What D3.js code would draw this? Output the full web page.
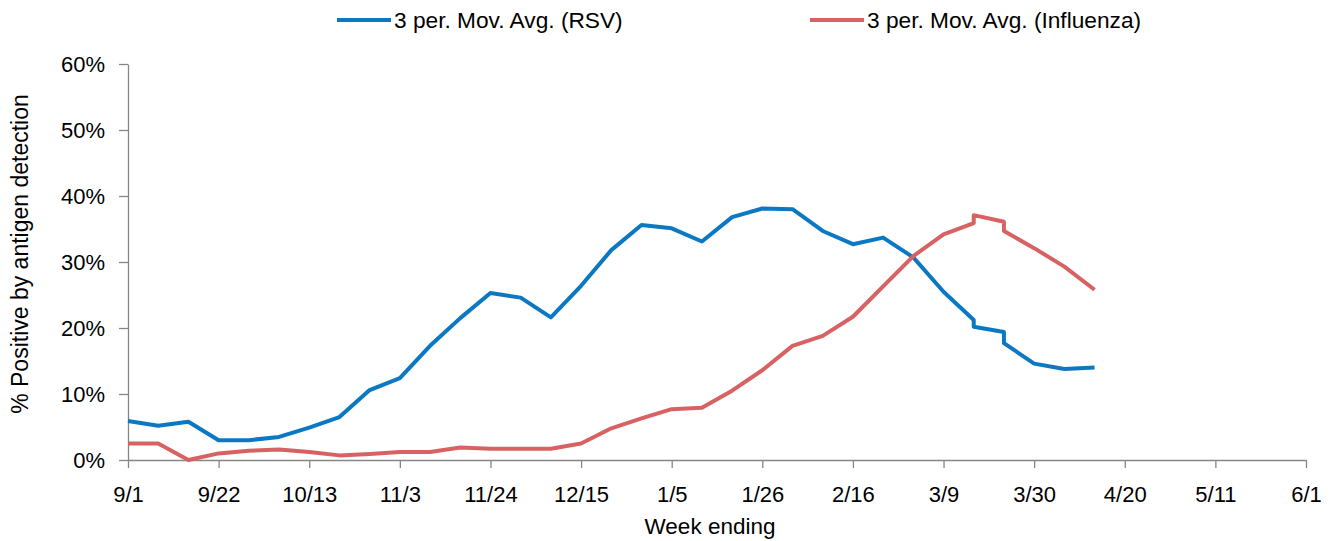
<!DOCTYPE html>
<html>
<head>
<meta charset="utf-8">
<script src="https://cdn.jsdelivr.net/npm/d3@7/dist/d3.min.js"></script>
<style>
  body { margin: 0; background: #fff; }
  text { font-family: "Liberation Sans", "DejaVu Sans", sans-serif; fill: #000; }
</style>
</head>
<body>
<script>
// week ending dates (season 2018-19); 3/16 and 3/23 appear twice in the source
var weekEnding = [
  "2018-09-01","2018-09-08","2018-09-15","2018-09-22","2018-09-29","2018-10-06",
  "2018-10-13","2018-10-20","2018-10-27","2018-11-03","2018-11-10","2018-11-17",
  "2018-11-24","2018-12-01","2018-12-08","2018-12-15","2018-12-22","2018-12-29",
  "2019-01-05","2019-01-12","2019-01-19","2019-01-26","2019-02-02","2019-02-09",
  "2019-02-16","2019-02-23","2019-03-02","2019-03-09","2019-03-16","2019-03-16",
  "2019-03-23","2019-03-23","2019-03-30","2019-04-06","2019-04-13"
];

var rsv = [
  5.9, 5.2, 5.8, 3.0, 3.0, 3.5, 4.9, 6.5, 10.6, 12.4, 17.3, 21.5,
  25.3, 24.6, 21.6, 26.4, 31.8, 35.6, 35.1, 33.1, 36.8, 38.1, 38.0, 34.7,
  32.7, 33.7, 30.7, 25.5, 21.2, 20.2, 19.4, 17.7, 14.6, 13.8, 14.0
];

var influenza = [
  2.5, 2.5, 0.0, 1.0, 1.4, 1.6, 1.2, 0.7, 0.9, 1.2, 1.2, 1.9,
  1.7, 1.7, 1.7, 2.5, 4.8, 6.3, 7.7, 7.9, 10.5, 13.6, 17.3, 18.8,
  21.7, 26.3, 30.9, 34.2, 35.9, 37.1, 36.1, 34.7, 32.1, 29.3, 25.8
];

var seriesNames = ["3 per. Mov. Avg. (RSV)", "3 per. Mov. Avg. (Influenza)"];
var seriesColors = ["#0a78c2", "#d86263"];

var xTickLabels = ["9/1","9/22","10/13","11/3","11/24","12/15","1/5","1/26","2/16","3/9","3/30","4/20","5/11","6/1"];
var yTickValues = [0, 10, 20, 30, 40, 50, 60];

var W = 1338, H = 541;
var mLeft = 128, mRight = 1306, mTop = 64, mBottom = 460;

var svg = d3.select("body").append("svg")
    .attr("width", W)
    .attr("height", H);

var parse = d3.utcParse("%Y-%m-%d");
var start = parse("2018-09-01");
var tickDates = xTickLabels.map(function (d, i) { return d3.utcDay.offset(start, 21 * i); });

var x = d3.scaleUtc()
    .domain([start, tickDates[tickDates.length - 1]])
    .range([mLeft, mRight]);

var y = d3.scaleLinear()
    .domain([0, 60])
    .range([mBottom, mTop]);

// y axis
svg.append("g")
    .attr("class", "y-axis")
    .attr("transform", "translate(" + mLeft + ",0)")
    .call(d3.axisLeft(y)
        .tickValues(yTickValues)
        .tickSize(9)
        .tickPadding(14)
        .tickSizeOuter(0)
        .tickFormat(function (d) { return d + "%"; }));

// x axis
svg.append("g")
    .attr("class", "x-axis")
    .attr("transform", "translate(0," + mBottom + ")")
    .call(d3.axisBottom(x)
        .tickValues(tickDates)
        .tickSize(8)
        .tickPadding(18)
        .tickSizeOuter(0)
        .tickFormat(function (d, i) { return xTickLabels[i]; }));

svg.selectAll(".domain").attr("stroke", "#868686").attr("stroke-width", 1.3);
svg.selectAll(".tick line").attr("stroke", "#868686").attr("stroke-width", 1.3);
svg.selectAll(".tick text").style("font-size", "22px").attr("fill", "#000");
svg.selectAll(".x-axis .tick text").attr("dy", 0).attr("y", 42);

// axis titles
svg.append("text")
    .attr("x", (mLeft + mRight) / 2 - 7)
    .attr("y", 534)
    .attr("text-anchor", "middle")
    .style("font-size", "22.5px")
    .text("Week ending");

svg.append("text")
    .attr("transform", "translate(28,254) rotate(-90)")
    .attr("text-anchor", "middle")
    .style("font-size", "23px")
    .text("% Positive by antigen detection");

// lines
var allSeries = [rsv, influenza];
var line = d3.line()
    .x(function (d) { return x(d.date); })
    .y(function (d) { return y(d.value); });

allSeries.forEach(function (vals, k) {
    var pts = vals.map(function (v, i) { return { date: parse(weekEnding[i]), value: v }; });
    svg.append("path")
        .datum(pts)
        .attr("fill", "none")
        .attr("stroke", seriesColors[k])
        .attr("stroke-width", 4)
        .attr("stroke-linejoin", "round")
        .attr("d", line);
});

// legend
var legendX = [337, 810];
seriesNames.forEach(function (name, k) {
    var g = svg.append("g").attr("transform", "translate(" + legendX[k] + ",20)");
    g.append("line")
        .attr("x1", 0).attr("x2", 54)
        .attr("y1", 0).attr("y2", 0)
        .attr("stroke", seriesColors[k])
        .attr("stroke-width", 4);
    g.append("text")
        .attr("x", 57)
        .attr("y", 8)
        .style("font-size", "22.7px")
        .text(name);
});
</script>
</body>
</html>
